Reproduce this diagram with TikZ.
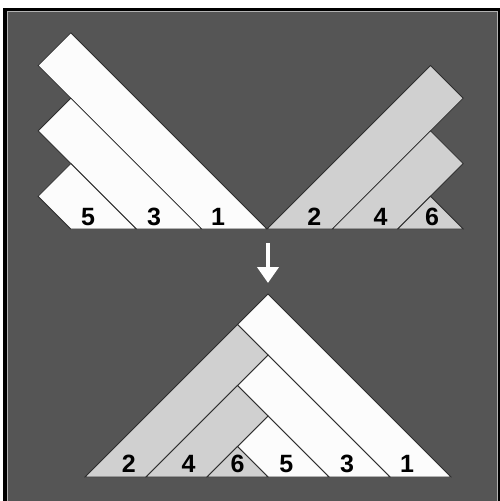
\documentclass[tikz,border=0pt]{standalone}
\usepackage{fontspec}
\setmainfont{Liberation Sans}
\usetikzlibrary{arrows.meta}
\definecolor{bggray}{HTML}{555555}
\definecolor{stripwhite}{HTML}{FCFCFC}
\definecolor{stripgray}{HTML}{D0D0D0}
\definecolor{edgecol}{HTML}{2E2E2E}
\tikzset{
  whitestrip/.style={fill=stripwhite, draw=edgecol, line width=0.8pt, line join=miter},
  graystrip/.style={fill=stripgray, draw=edgecol, line width=0.8pt, line join=miter},
  numlabel/.style={inner sep=0pt, text=black, font=\fontsize{25}{29}\selectfont\bfseries},
}
\begin{document}
\begin{tikzpicture}[x=1pt,y=-1pt]
\useasboundingbox (0,0) rectangle (500,501);
\fill[white] (0,0) rectangle (500,501);
% frame
\fill[black] (3,8) rectangle (500,510);
\fill[bggray] (7.5,11.5) rectangle (497,510);
\draw[gray!60, line width=0.6pt] (7.5,510) -- (7.5,11.5) -- (497,11.5) -- (497,510);
% top: two fans
\begin{scope}[shift={(267,229)}, x=32.7pt, y=32.7pt]
  \draw[whitestrip] (0,0) -- (-6,6) -- (-7,5) -- (-2,0) -- cycle;
  \draw[whitestrip] (-2,0) -- (-6,4) -- (-7,3) -- (-4,0) -- cycle;
  \draw[whitestrip] (-4,0) -- (-6,2) -- (-7,1) -- (-6,0) -- cycle;
  \draw[graystrip] (0,0) -- (5,5) -- (6,4) -- (2,0) -- cycle;
  \draw[graystrip] (2,0) -- (5,3) -- (6,2) -- (4,0) -- cycle;
  \draw[graystrip] (4,0) -- (5,1) -- (6,0) -- cycle;
  \node[numlabel] (t5) at (-5.47,0.38) {5};
  \node[numlabel] (t3) at (-3.45,0.38) {3};
  \node[numlabel] (t1) at (-1.5,0.38) {1};
  \node[numlabel] (t2) at (1.45,0.38) {2};
  \node[numlabel] (t4) at (3.47,0.38) {4};
  \node[numlabel] (t6) at (5.05,0.38) {6};
\end{scope}
% arrow
\coordinate (arrowtop) at (268,243);
\coordinate (arrowtip) at (268,283);
\draw[white, line width=4pt, -{Triangle[width=21pt,length=16pt]}] (arrowtop) -- (arrowtip);
% bottom: merged triangle
\begin{scope}[shift={(268,477)}, x=30.5pt, y=30.5pt]
  \draw[whitestrip] (6,0) -- (0,6) -- (-1,5) -- (4,0) -- cycle;
  \draw[whitestrip] (4,0) -- (0,4) -- (-1,3) -- (2,0) -- cycle;
  \draw[whitestrip] (2,0) -- (0,2) -- (-1,1) -- (0,0) -- cycle;
  \draw[graystrip] (-6,0) -- (-1,5) -- (0,4) -- (-4,0) -- cycle;
  \draw[graystrip] (-4,0) -- (-1,3) -- (0,2) -- (-2,0) -- cycle;
  \draw[graystrip] (-2,0) -- (-1,1) -- (0,0) -- cycle;
  \node[numlabel] (b2) at (-4.56,0.44) {2};
  \node[numlabel] (b4) at (-2.6,0.44) {4};
  \node[numlabel] (b6) at (-1.0,0.44) {6};
  \node[numlabel] (b5) at (0.6,0.44) {5};
  \node[numlabel] (b3) at (2.59,0.44) {3};
  \node[numlabel] (b1) at (4.56,0.44) {1};
\end{scope}
\end{tikzpicture}
\end{document}
